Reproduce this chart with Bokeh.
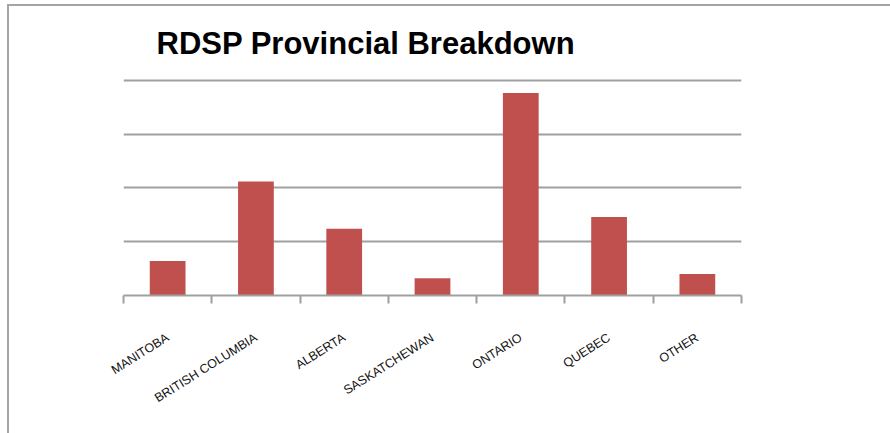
from bokeh.plotting import figure
from bokeh.models import FixedTicker, Range1d
from bokeh.embed import file_html
from bokeh.resources import INLINE

# ---- data ----
categories = ["Manitoba", "British Columbia", "Alberta", "Saskatchewan",
              "Ontario", "Quebec", "Other"]
values = [64, 212, 124, 32, 376, 146, 40]
grid_levels = [100, 200, 300, 400]

n = len(categories)
centers = [i + 0.5 for i in range(n)]
boundaries = list(range(n + 1))

p = figure(
    width=883, height=429,
    x_range=Range1d(0, n), y_range=Range1d(0, 405),
    output_backend="svg", toolbar_location=None,
    min_border_left=114, min_border_top=69, min_border_right=151, min_border_bottom=140,
    title="RDSP Provincial Breakdown",
    styles={"border-top": "2px solid #a5a5a5", "border-left": "2px solid #a5a5a5",
            "margin-left": "7px", "margin-top": "4px"},
)
p.outline_line_color = None
p.background_fill_color = "white"
p.border_fill_color = "white"

p.title.text_font = "Liberation Sans"
p.title.text_font_size = "31px"
p.title.text_font_style = "bold"
p.title.text_color = "black"
p.title.align = "left"
p.title.offset = 33
p.title.standoff = 34

p.vbar(x=centers, top=values, width=0.405, bottom=0,
       fill_color="#C0504D", line_color=None)

# y axis hidden, horizontal grid lines only
p.yaxis.visible = False
p.xgrid.visible = False
p.ygrid.ticker = FixedTicker(ticks=grid_levels)
p.ygrid.grid_line_color = "#a0a0a0"
p.ygrid.grid_line_width = 2

xa = p.xaxis[0]
xa.ticker = FixedTicker(ticks=centers, minor_ticks=boundaries)
xa.major_label_overrides = {c: name.upper() for c, name in zip(centers, categories)}
xa.major_label_orientation = 0.56
xa.major_label_text_font = "Liberation Sans"
xa.major_label_text_font_size = "12.5px"
xa.major_label_text_color = "#111111"
xa.major_label_standoff = 33
xa.major_tick_out = 0
xa.major_tick_in = 0
xa.minor_tick_out = 8
xa.minor_tick_in = 0
xa.minor_tick_line_color = "#a0a0a0"
xa.minor_tick_line_width = 2
xa.axis_line_color = "#a0a0a0"
xa.axis_line_width = 2

open("out.html", "w").write(file_html(p, INLINE))
